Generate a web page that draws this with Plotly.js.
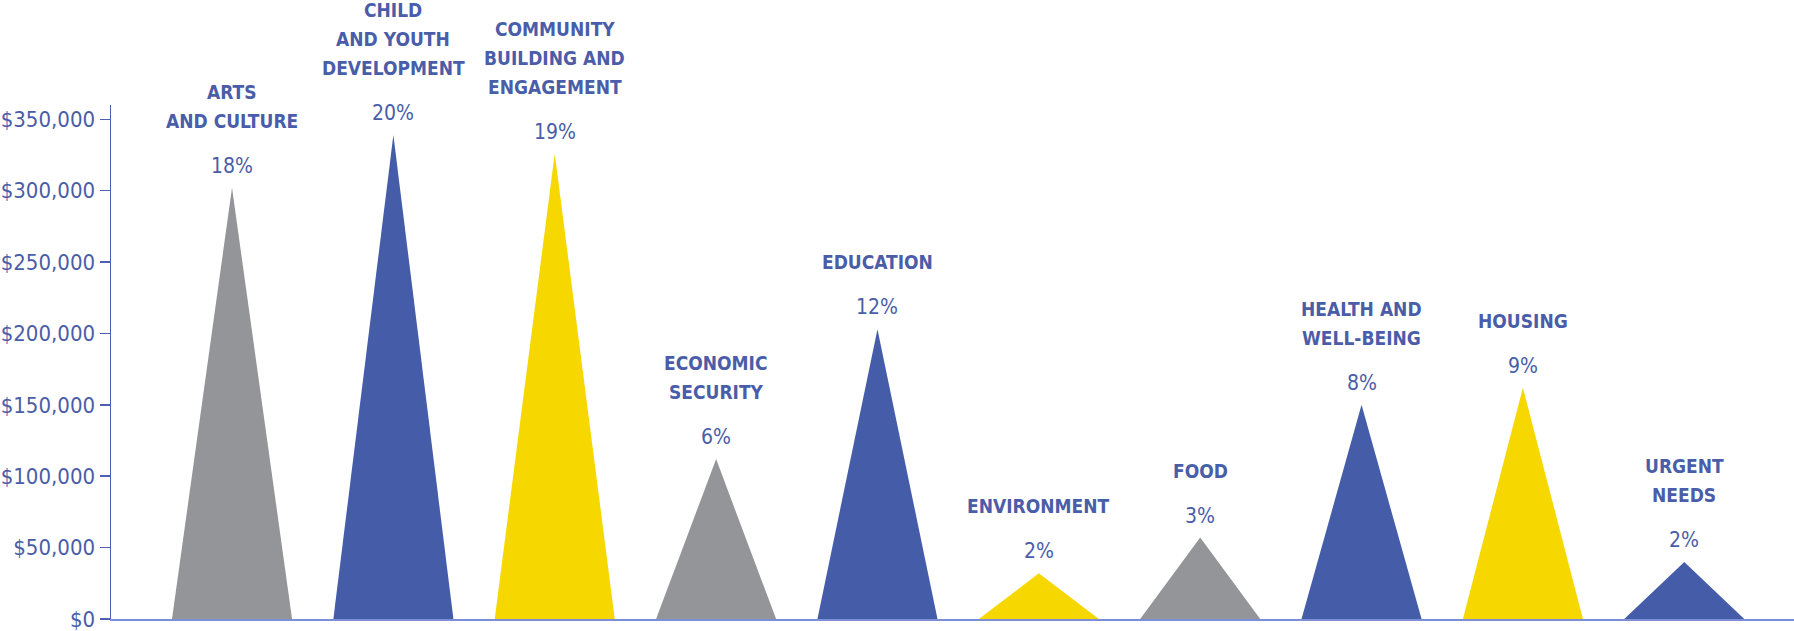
<!DOCTYPE html>
<html>
<head>
<meta charset="utf-8">
<script src="https://cdn.plot.ly/plotly-3.0.1.min.js"></script>
<style>
  html, body { margin: 0; padding: 0; background: #ffffff; }
  #chart { width: 1794px; height: 631px; }
</style>
</head>
<body>
<div id="chart"></div>
<script>
// Grant dollars by focus area, with each area's share of the total
const categories = [
  "ARTS\nAND CULTURE",
  "CHILD\nAND YOUTH\nDEVELOPMENT",
  "COMMUNITY\nBUILDING AND\nENGAGEMENT",
  "ECONOMIC\nSECURITY",
  "EDUCATION",
  "ENVIRONMENT",
  "FOOD",
  "HEALTH AND\nWELL-BEING",
  "HOUSING",
  "URGENT\nNEEDS"
];
const amounts = [302000, 339000, 326000, 112000, 203000, 32000, 57000, 150000, 162000, 40000];
const shares = ["18%", "20%", "19%", "6%", "12%", "2%", "3%", "8%", "9%", "2%"];
const yTickValues = [0, 50000, 100000, 150000, 200000, 250000, 300000, 350000];

const GRAY = "#939598", BLUE = "#455ca8", YELLOW = "#f6d800";
const peakColors = [GRAY, BLUE, YELLOW, GRAY, BLUE, YELLOW, GRAY, BLUE, YELLOW, BLUE];
const TEXT = "#4a5da8";
const FONT = "'DejaVu Sans Condensed', 'Liberation Sans Narrow', 'Roboto', sans-serif";
const HALF = 0.372;       // half base width of each peak, in category units

// one filled triangle per focus area
const traces = categories.map((c, i) => ({
  type: "scatter",
  mode: "lines",
  x: [i - HALF, i, i + HALF, i - HALF],
  y: [0, amounts[i], 0, 0],
  fill: "toself",
  fillcolor: peakColors[i],
  line: { width: 0, color: peakColors[i] },
  hoverinfo: "skip",
  showlegend: false
}));

// share label just above each peak, and the area name stacked above that
const annotations = [];
categories.forEach((c, i) => {
  annotations.push({
    x: i, y: amounts[i], xref: "x", yref: "y",
    text: shares[i], showarrow: false,
    xanchor: "center", yanchor: "middle", yshift: 22,
    font: { family: FONT, size: 21, color: TEXT }
  });
  const lines = c.split("\n");
  lines.forEach((ln, k) => {
    annotations.push({
      x: i, y: amounts[i], xref: "x", yref: "y",
      text: ln, showarrow: false,
      xanchor: "center", yanchor: "middle",
      yshift: 67 + (lines.length - 1 - k) * 29,
      font: { family: FONT, size: 19, color: TEXT, weight: "bold" }
    });
  });
});

const layout = {
  width: 1794, height: 631,
  margin: { l: 111, r: 0, t: 105, b: 12, pad: 0 },
  paper_bgcolor: "#ffffff", plot_bgcolor: "#ffffff",
  showlegend: false,
  xaxis: {
    range: [-0.75, 9.68],
    showgrid: false, zeroline: false,
    showticklabels: false, ticks: "",
    showline: true, linecolor: "#7b8ed6", linewidth: 2,
    fixedrange: true
  },
  yaxis: {
    range: [0, 360000],
    tickvals: yTickValues,
    tickformat: "$,",
    showgrid: false, zeroline: false,
    showline: true, linecolor: "#4b5fb3", linewidth: 1.5,
    ticks: "outside", ticklen: 10, tickwidth: 1.5, tickcolor: "#4b5fb3",
    ticklabeloverflow: "allow",
    tickfont: { family: FONT, size: 22, color: TEXT },
    fixedrange: true
  },
  annotations: annotations
};

Plotly.newPlot("chart", traces, layout, { displayModeBar: false, staticPlot: true });
</script>
</body>
</html>
